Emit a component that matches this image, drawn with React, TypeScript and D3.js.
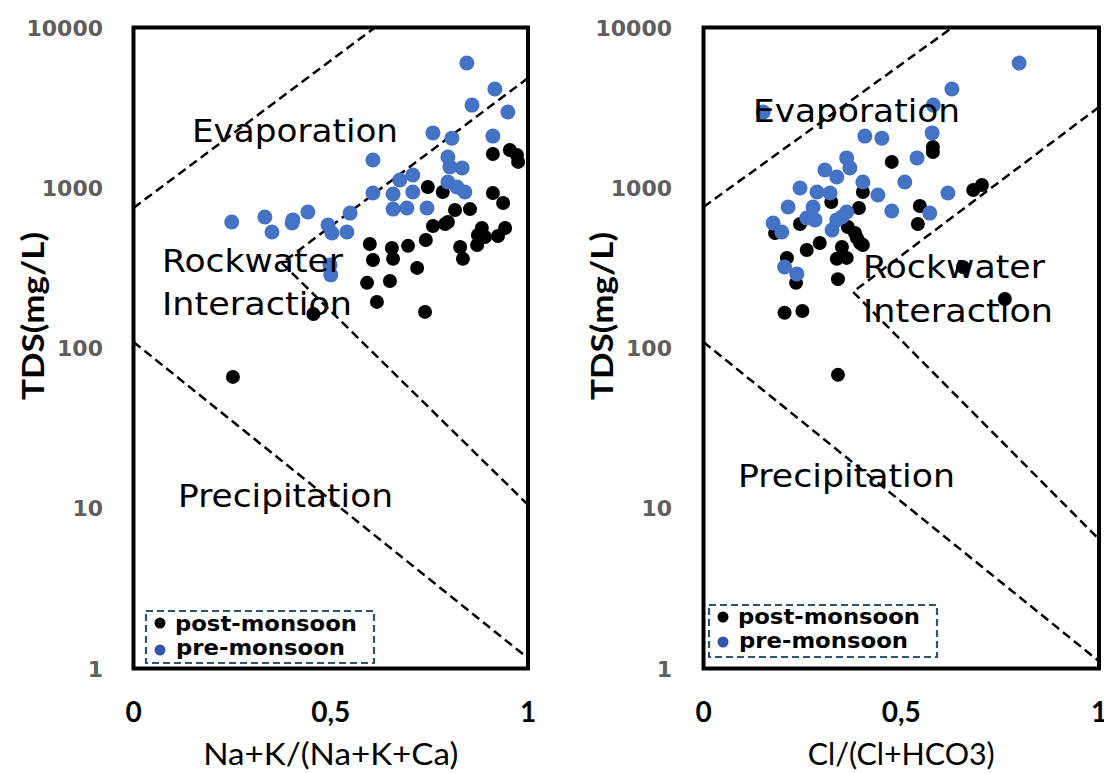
import React from 'react';
import * as d3 from 'd3';

const W = 1104;
const H = 774;
const plotTop = 27.5;
const plotBottom = 668.5;

const yTicks = [1, 10, 100, 1000, 10000];
const xTicks = [0, 0.5, 1];
const xTickLabels = ['0', '0,5', '1'];

// Na+K/(Na+K+Ca) vs TDS
const naPost: [number, number][] = [
  [0.954, 1720], [0.972, 1600], [0.975, 1450], [0.911, 1625], [0.746, 1010], [0.784, 940],
  [0.911, 927], [0.937, 803], [0.815, 726], [0.853, 736], [0.759, 577], [0.79, 594],
  [0.797, 611], [0.883, 561], [0.873, 508], [0.891, 493], [0.924, 500], [0.942, 561],
  [0.871, 439], [0.828, 427], [0.835, 360], [0.741, 472], [0.696, 434], [0.599, 446],
  [0.655, 421], [0.658, 360], [0.607, 354], [0.719, 316], [0.592, 255], [0.65, 262],
  [0.617, 194], [0.739, 168], [0.456, 163], [0.252, 66],
];
const naPre: [number, number][] = [
  [0.845, 6000], [0.916, 4130], [0.858, 3280], [0.949, 2970], [0.759, 2200], [0.807, 2040],
  [0.911, 2100], [0.607, 1490], [0.797, 1555], [0.802, 1350], [0.833, 1330], [0.708, 1200],
  [0.675, 1118], [0.797, 1087], [0.82, 1010], [0.84, 941], [0.607, 927], [0.658, 914],
  [0.708, 941], [0.658, 736], [0.693, 747], [0.744, 747], [0.549, 695], [0.442, 706],
  [0.404, 630], [0.402, 603], [0.333, 657], [0.351, 530], [0.249, 611], [0.493, 585],
  [0.503, 522], [0.541, 530], [0.498, 330], [0.5, 286],
];

// Cl/(Cl+HCO3) vs TDS
const clPost: [number, number][] = [
  [0.58, 1795], [0.58, 1670], [0.476, 1450], [0.682, 968], [0.704, 1040], [0.403, 941],
  [0.323, 815], [0.547, 769], [0.393, 747], [0.542, 594], [0.244, 594], [0.181, 522],
  [0.365, 569], [0.383, 522], [0.388, 486], [0.396, 452], [0.403, 439], [0.35, 427],
  [0.294, 452], [0.261, 409], [0.337, 360], [0.362, 365], [0.211, 365], [0.34, 269],
  [0.234, 255], [0.656, 320], [0.762, 202], [0.205, 166], [0.25, 170], [0.34, 68],
];
const clPre: [number, number][] = [
  [0.798, 6000], [0.628, 4130], [0.581, 3280], [0.151, 2970], [0.578, 2200], [0.408, 2100],
  [0.451, 2040], [0.54, 1535], [0.362, 1535], [0.37, 1330], [0.307, 1290], [0.337, 1167],
  [0.403, 1087], [0.509, 1087], [0.244, 996], [0.287, 941], [0.32, 927], [0.441, 901],
  [0.618, 927], [0.214, 758], [0.277, 758], [0.362, 706], [0.476, 716], [0.572, 695],
  [0.261, 647], [0.282, 630], [0.337, 630], [0.35, 657], [0.176, 603], [0.198, 530],
  [0.325, 545], [0.205, 320], [0.236, 290],
];

// Gibbs boundary lines
const naEvapLine: [number, number][] = [[0, 748], [0.612, 10000]];
const naRockLine: [number, number][] = [[1, 4842], [0.376, 339], [1, 10.5]];
const naPrecLine: [number, number][] = [[0, 109], [1, 1.16]];
const clEvapLine: [number, number][] = [[0, 759], [0.629, 10000]];
const clRockLine: [number, number][] = [[1, 3190], [0.378, 224], [1, 6.4]];
const clPrecLine: [number, number][] = [[0, 109], [1, 1.11]];

const BLUE = '#4472C4';
const LEGEND_STROKE = '#2a5673';
const CALIBRI = "Lato, 'Open Sans', 'Liberation Sans', sans-serif";
const VERDANA = "'DejaVu Sans', Verdana, sans-serif";

type Label = { text: string; dx: number; y: number; w: number };

type PanelProps = {
  id: string;
  x0: number;
  x1: number;
  post: [number, number][];
  pre: [number, number][];
  lines: [number, number][][];
  xTitle: string;
  xTitleW: number;
  labels: Label[];
  legend: { dx: number; y: number; rows: number[]; marks: number[] };
  tdsX: number;
  tickRight: number;
};

const Panel = ({ id, x0, x1, post, pre, lines, xTitle, xTitleW, labels, legend, tdsX, tickRight }: PanelProps) => {
  const x = d3.scaleLinear().domain([0, 1]).range([x0, x1]);
  const y = d3.scaleLog().domain([1, 10000]).range([plotBottom, plotTop]);
  const line = d3.line<[number, number]>().x(d => x(d[0])).y(d => y(d[1]));
  const legW = 228;
  const legH = 52;

  return (
    <g>
      <defs>
        <clipPath id={`clip_${id}`}>
          <rect x={x0} y={plotTop} width={x1 - x0} height={plotBottom - plotTop} />
        </clipPath>
      </defs>
      <rect x={x0} y={plotTop} width={x1 - x0} height={plotBottom - plotTop} fill="#fff" />
      <g clipPath={`url(#clip_${id})`}>
        {lines.map((l, i) => (
          <path key={i} d={line(l) || ''} fill="none" stroke="#000" strokeWidth={2.5} strokeDasharray="9,5" />
        ))}
        {post.map((d, i) => (
          <circle key={`a${i}`} cx={x(d[0])} cy={y(d[1])} r={7} fill="#000" />
        ))}
        {pre.map((d, i) => (
          <circle key={`b${i}`} cx={x(d[0])} cy={y(d[1])} r={7.5} fill={BLUE} />
        ))}
      </g>
      {labels.map((l, i) => (
        <text key={i} x={x0 + l.dx} y={l.y} fontFamily={VERDANA} fontSize={32} fill="#000"
          textLength={l.w} lengthAdjust="spacingAndGlyphs">{l.text}</text>
      ))}
      <rect x={x0 + legend.dx} y={legend.y} width={legW} height={legH} fill="none"
        stroke={LEGEND_STROKE} strokeWidth={2.2} strokeDasharray="7,4" />
      <circle cx={x0 + legend.dx + 14} cy={legend.marks[0]} r={5.5} fill="#000" />
      <circle cx={x0 + legend.dx + 14} cy={legend.marks[1]} r={5.5} fill="#3355aa" />
      <text x={x0 + legend.dx + 29} y={legend.rows[0]} fontFamily={VERDANA} fontWeight="bold" fontSize={21}
        textLength={182} lengthAdjust="spacingAndGlyphs">post-monsoon</text>
      <text x={x0 + legend.dx + 30} y={legend.rows[1]} fontFamily={VERDANA} fontWeight="bold" fontSize={21}
        textLength={169} lengthAdjust="spacingAndGlyphs">pre-monsoon</text>
      <rect x={x0} y={plotTop} width={x1 - x0} height={plotBottom - plotTop} fill="none" stroke="#000" strokeWidth={4} />
      {yTicks.map(t => (
        <text key={t} x={tickRight} y={y(t) + 8} textAnchor="end" fontFamily={VERDANA} fontWeight="bold"
          fontSize={22} fill="#5f5f5f">{String(t)}</text>
      ))}
      {xTicks.map((t, i) => (
        <text key={t} x={x(t)} y={722} textAnchor="middle" fontFamily={CALIBRI} fontWeight="bold" fontSize={28}
          fill="#000">{xTickLabels[i]}</text>
      ))}
      <text x={(x0 + x1) / 2} y={765} textAnchor="middle" fontFamily={CALIBRI} fontSize={30}
        textLength={xTitleW} lengthAdjust="spacingAndGlyphs">{xTitle}</text>
      <text transform={`translate(${tdsX},316) rotate(-90)`} textAnchor="middle" fontFamily={CALIBRI}
        fontWeight="bold" fontSize={30} textLength={168} lengthAdjust="spacingAndGlyphs">TDS(mg/L)</text>
    </g>
  );
};

export default function App() {
  return (
    <svg width={W} height={H} style={{ position: 'absolute', left: 0, top: 0, background: '#fff' }}>
      <rect width={W} height={H} fill="#fff" />
      <Panel
        id="na"
        x0={133.5}
        x1={528}
        post={naPost}
        pre={naPre}
        lines={[naEvapLine, naRockLine, naPrecLine]}
        xTitle="Na+K/(Na+K+Ca)"
        xTitleW={255}
        labels={[
          { text: 'Evaporation', dx: 58.5, y: 142, w: 206 },
          { text: 'Rockwater', dx: 28.5, y: 272, w: 181 },
          { text: 'Interaction', dx: 28.5, y: 315, w: 190 },
          { text: 'Precipitation', dx: 44.5, y: 507, w: 215 },
        ]}
        legend={{ dx: 12.5, y: 611, rows: [631, 655], marks: [623, 650] }}
        tdsX={44}
        tickRight={103}
      />
      <Panel
        id="cl"
        x0={703.5}
        x1={1099}
        post={clPost}
        pre={clPre}
        lines={[clEvapLine, clRockLine, clPrecLine]}
        xTitle="Cl/(Cl+HCO3)"
        xTitleW={187}
        labels={[
          { text: 'Evaporation', dx: 49.5, y: 122, w: 207 },
          { text: 'Rockwater', dx: 159.5, y: 278, w: 182 },
          { text: 'Interaction', dx: 159.5, y: 322, w: 190 },
          { text: 'Precipitation', dx: 34.5, y: 487, w: 217 },
        ]}
        legend={{ dx: 5.5, y: 605, rows: [624, 648], marks: [617, 642] }}
        tdsX={613}
        tickRight={672}
      />
    </svg>
  );
}
